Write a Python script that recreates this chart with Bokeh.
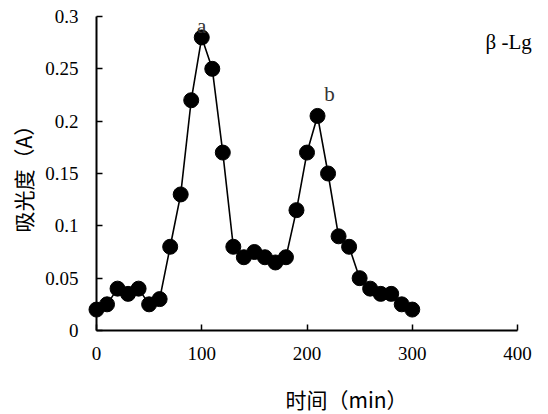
from bokeh.plotting import figure
from bokeh.models import Range1d, Label, FixedTicker
from bokeh.embed import file_html
from bokeh.resources import INLINE

# Data
time_min = [0, 10, 20, 30, 40, 50, 60, 70, 80, 90, 100, 110, 120, 130, 140, 150,
            160, 170, 180, 190, 200, 210, 220, 230, 240, 250, 260, 270, 280, 290, 300]
absorbance = [0.02, 0.025, 0.04, 0.035, 0.04, 0.025, 0.03, 0.08, 0.13, 0.22, 0.28,
              0.25, 0.17, 0.08, 0.07, 0.075, 0.07, 0.065, 0.07, 0.115, 0.17, 0.205,
              0.15, 0.09, 0.08, 0.05, 0.04, 0.035, 0.035, 0.025, 0.02]
x_ticks = [0, 100, 200, 300, 400]
y_ticks = [0, 0.05, 0.1, 0.15, 0.2, 0.25, 0.3]
y_tick_labels = ["0", "0.05", "0.1", "0.15", "0.2", "0.25", "0.3"]
peak_names = ["a", "b"]
peak_x = [99.8, 221.4]
peak_y = [0.2914, 0.2255]
x_title = "时间（min）"
y_title = "吸光度（A）"
sample_name = "β -Lg"

num_font = "Liberation Serif"
cjk_font = "Noto Sans CJK SC"

# The frame covers the whole canvas; the axes are pinned at x=0 / y=0
p = figure(width=548, height=414, output_backend="svg", toolbar_location=None,
           x_range=Range1d(-91.21, 429.45), y_range=Range1d(-0.08025, 0.31529),
           min_border=0)
p.outline_line_color = None
p.grid.visible = False
p.background_fill_color = "white"
p.border_fill_color = "white"

for ax in (p.xaxis, p.yaxis):
    ax.fixed_location = 0
    ax.axis_line_color = "black"
    ax.axis_line_width = 2
    ax.major_tick_line_color = "black"
    ax.major_tick_line_width = 1.5
    ax.major_tick_in = 6
    ax.major_tick_out = 0
    ax.minor_tick_line_color = None
    ax.major_label_text_font = num_font
    ax.major_label_text_font_size = "19px"
    ax.major_label_text_color = "black"

p.xaxis.bounds = (0, 400)
p.yaxis.bounds = (0, 0.3)
p.xaxis.ticker = FixedTicker(ticks=x_ticks)
p.yaxis.ticker = FixedTicker(ticks=y_ticks)
p.yaxis.major_label_overrides = {t: s for t, s in zip(y_ticks, y_tick_labels)}
p.xaxis.major_label_standoff = 16
p.yaxis.major_label_standoff = 18

p.line(time_min, absorbance, line_color="black", line_width=1.6)
p.scatter(time_min, absorbance, size=15, fill_color="black", line_color="black")

for name, xx, yy in zip(peak_names, peak_x, peak_y):
    p.add_layout(Label(x=xx, y=yy, text=name, text_align="center",
                       text_baseline="alphabetic", text_font=num_font,
                       text_font_size="21px", text_color="#333333"))

p.add_layout(Label(x=369.6, y=0.2761, text=sample_name, text_align="left",
                   text_baseline="alphabetic", text_font=num_font,
                   text_font_size="21px", text_color="black"))

p.add_layout(Label(x=179.6, y=-0.0659, text=x_title, text_align="left",
                   text_baseline="middle", text_font=cjk_font,
                   text_font_size="21px", text_color="black"))

p.add_layout(Label(x=-69.36, y=0.0936, text=y_title, text_align="left",
                   text_baseline="middle", angle=1.5707963, text_font=cjk_font,
                   text_font_size="21px", text_color="black"))

open("out.html", "w").write(file_html(p, INLINE))
